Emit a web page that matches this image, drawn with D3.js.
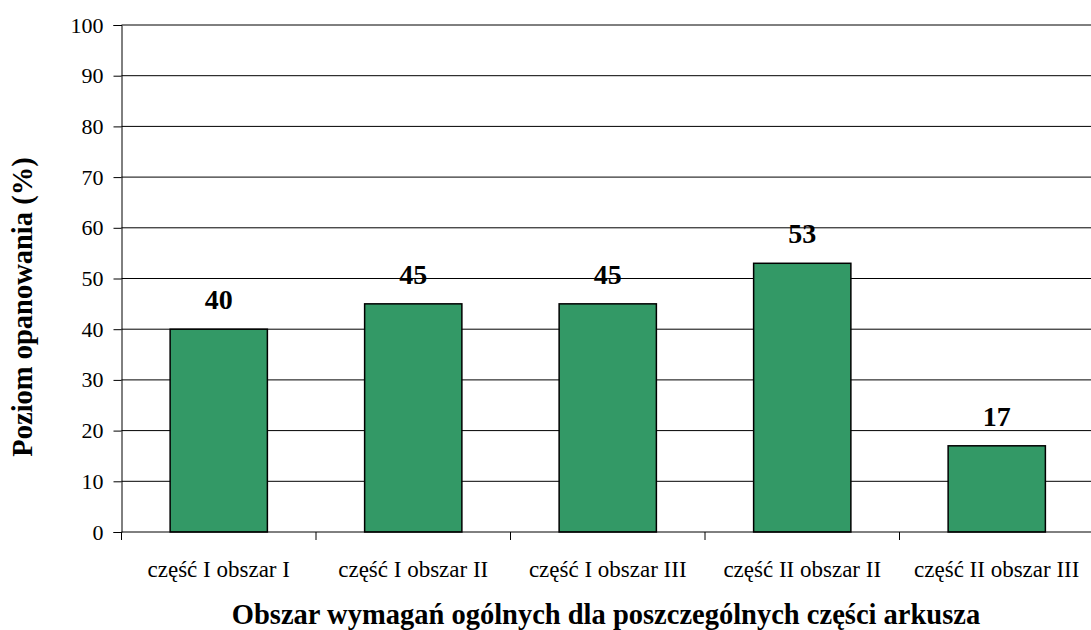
<!DOCTYPE html>
<html>
<head>
<meta charset="utf-8">
<script src="https://cdn.jsdelivr.net/npm/d3@7"></script>
<style>
  body { margin: 0; background: #fff; }
  svg text { font-family: "Liberation Serif", "Times New Roman", "DejaVu Serif", serif !important; fill: #000; }
</style>
</head>
<body>
<svg id="chart" width="1091" height="630"></svg>
<script>
var categories = ['część I obszar I', 'część I obszar II', 'część I obszar III', 'część II obszar II', 'część II obszar III'];
var values = [40, 45, 45, 53, 17];
var yTicks = [0, 10, 20, 30, 40, 50, 60, 70, 80, 90, 100];
var xTitle = 'Obszar wymagań ogólnych dla poszczególnych części arkusza';
var yTitle = 'Poziom opanowania (%)';

var width = 1091;
var height = 630;
var plotLeft = 121.5, plotRight = 1094, plotTop = 25, plotBottom = 532;
var serif = '"Liberation Serif", "Times New Roman", serif';

var svg = d3.select('#chart');

var x = d3.scaleBand()
    .domain(categories)
    .range([plotLeft, plotRight])
    .paddingInner(0.5)
    .paddingOuter(0.25);

var y = d3.scaleLinear()
    .domain([0, 100])
    .range([plotBottom, plotTop]);

// grid lines
svg.append('g')
    .selectAll('line')
    .data(yTicks.filter(function(d){ return d > 0; }))
    .enter().append('line')
        .attr('x1', plotLeft)
        .attr('x2', width)
        .attr('y1', function(d){ return y(d); })
        .attr('y2', function(d){ return y(d); })
        .style('stroke', '#000')
        .style('stroke-width', 1);

// y axis
var yAxis = svg.append('g')
    .attr('transform', 'translate(' + plotLeft + ',0)')
    .call(d3.axisLeft(y).tickValues(yTicks).tickSize(8).tickPadding(10));
yAxis.attr('font-family', serif).attr('font-size', 22);
yAxis.select('.domain').attr('stroke', '#000');
yAxis.selectAll('text')
    .attr('font-family', serif)
    .style('font-size', '22px');

// bars
svg.append('g')
    .selectAll('rect')
    .data(values)
    .enter().append('rect')
        .attr('x', function(d, i){ return x(categories[i]); })
        .attr('y', function(d){ return y(d); })
        .attr('width', x.bandwidth())
        .attr('height', function(d){ return plotBottom - y(d); })
        .style('fill', '#339966')
        .style('stroke', '#000')
        .style('stroke-width', 1.5);

// x axis line and category ticks
var step = x.step();
var bounds = d3.range(categories.length + 1).map(function(i){ return plotLeft + i * step; });
svg.append('line')
    .attr('x1', plotLeft).attr('x2', width)
    .attr('y1', plotBottom).attr('y2', plotBottom)
    .style('stroke', '#000');
svg.append('g')
    .selectAll('line')
    .data(bounds)
    .enter().append('line')
        .attr('x1', function(d){ return d; })
        .attr('x2', function(d){ return d; })
        .attr('y1', plotBottom)
        .attr('y2', plotBottom + 8)
        .style('stroke', '#000');

// category labels
svg.append('g')
    .selectAll('text')
    .data(categories)
    .enter().append('text')
        .attr('x', function(d){ return x(d) + x.bandwidth() / 2; })
        .attr('y', 577)
        .attr('text-anchor', 'middle')
        .attr('font-family', serif)
        .style('font-size', '23px')
        .text(function(d){ return d; });

// value labels
svg.append('g')
    .selectAll('text')
    .data(values)
    .enter().append('text')
        .attr('x', function(d, i){ return x(categories[i]) + x.bandwidth() / 2; })
        .attr('y', function(d){ return y(d) - 20; })
        .attr('text-anchor', 'middle')
        .attr('font-family', serif)
        .style('font-size', '28px')
        .style('font-weight', 'bold')
        .text(function(d){ return d; });

// axis titles
svg.append('text')
    .attr('x', 606)
    .attr('y', 624)
    .attr('text-anchor', 'middle')
    .attr('font-family', serif)
    .style('font-size', '28.5px')
    .style('font-weight', 'bold')
    .text(xTitle);

svg.append('text')
    .attr('transform', 'translate(32,307) rotate(-90)')
    .attr('text-anchor', 'middle')
    .attr('font-family', serif)
    .style('font-size', '28.5px')
    .style('font-weight', 'bold')
    .text(yTitle);
</script>
</body>
</html>
